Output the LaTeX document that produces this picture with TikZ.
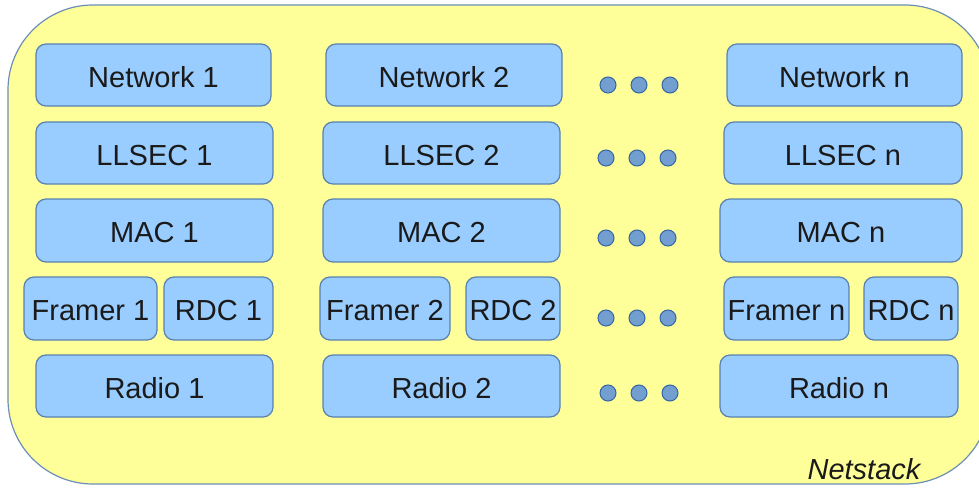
\documentclass[tikz,border=0pt]{standalone}
\usepackage{fontspec}
\setmainfont{Liberation Sans}
\definecolor{outerfill}{HTML}{FFFF99}
\definecolor{outerline}{HTML}{6D8FB5}
\definecolor{boxfill}{HTML}{99CCFF}
\definecolor{boxline}{HTML}{5A82B0}
\definecolor{dotfill}{HTML}{729FCF}
\definecolor{dotline}{HTML}{3465A4}
\definecolor{txt}{HTML}{1A1A1A}
\begin{document}
\begin{tikzpicture}[x=1pt,y=-1pt,
  layerbox/.style={draw=boxline,fill=boxfill,line width=1.2pt,rounded corners=10pt,
    minimum height=62pt,inner sep=0pt,text height=24pt,text depth=0pt,
    font=\fontsize{29}{31}\selectfont,text=txt},
  dotmark/.style={circle,draw=dotline,fill=dotfill,line width=1pt,minimum size=16pt,inner sep=0pt}]
\useasboundingbox (0,0) rectangle (979,487);
\draw[draw=outerline,fill=outerfill,line width=1.2pt,rounded corners=85pt] (8,5) rectangle (990,484);
% column 1
\node[layerbox,minimum width=235pt] (net1) at (153.5,75) {Network 1};
\node[layerbox,minimum width=237pt] (ll1) at (154.5,153) {LLSEC 1};
\node[layerbox,minimum width=237pt,minimum height=63pt] (mac1) at (154.5,230.5) {MAC 1};
\node[layerbox,minimum width=133pt,minimum height=63pt] (fr1) at (90.5,308.5) {Framer 1};
\node[layerbox,minimum width=109pt,minimum height=63pt] (rdc1) at (218.5,308.5) {RDC 1};
\node[layerbox,minimum width=237pt] (rad1) at (154.5,386) {Radio 1};
% column 2
\node[layerbox,minimum width=236pt] (net2) at (444,75) {Network 2};
\node[layerbox,minimum width=237pt] (ll2) at (441.5,153) {LLSEC 2};
\node[layerbox,minimum width=237pt,minimum height=63pt] (mac2) at (441.5,230.5) {MAC 2};
\node[layerbox,minimum width=130pt,minimum height=63pt] (fr2) at (385,308.5) {Framer 2};
\node[layerbox,minimum width=94pt,minimum height=63pt] (rdc2) at (513,308.5) {RDC 2};
\node[layerbox,minimum width=237pt] (rad2) at (441.5,386) {Radio 2};
% column n
\node[layerbox,minimum width=235pt] (netn) at (844.5,75) {Network n};
\node[layerbox,minimum width=238pt] (lln) at (843,153) {LLSEC n};
\node[layerbox,minimum width=242pt,minimum height=63pt] (macn) at (841,230.5) {MAC n};
\node[layerbox,minimum width=125pt,minimum height=63pt] (frn) at (786.5,308.5) {Framer n};
\node[layerbox,minimum width=94pt,minimum height=63pt] (rdcn) at (911,308.5) {RDC n};
\node[layerbox,minimum width=238pt] (radn) at (839,386) {Radio n};
% dots
\foreach \r/\y/\dx in {a/85/1,b/158/-1,c/238/-1,d/318/-1,e/393/1}{
  \node[dotmark] (d\r1) at (607+\dx,\y) {};
  \node[dotmark] (d\r2) at (638+\dx,\y) {};
  \node[dotmark] (d\r3) at (669+\dx,\y) {};
}
\node[font=\fontsize{29}{31}\selectfont\itshape,text=txt] (ns) at (864,469) {Netstack};
\end{tikzpicture}
\end{document}
